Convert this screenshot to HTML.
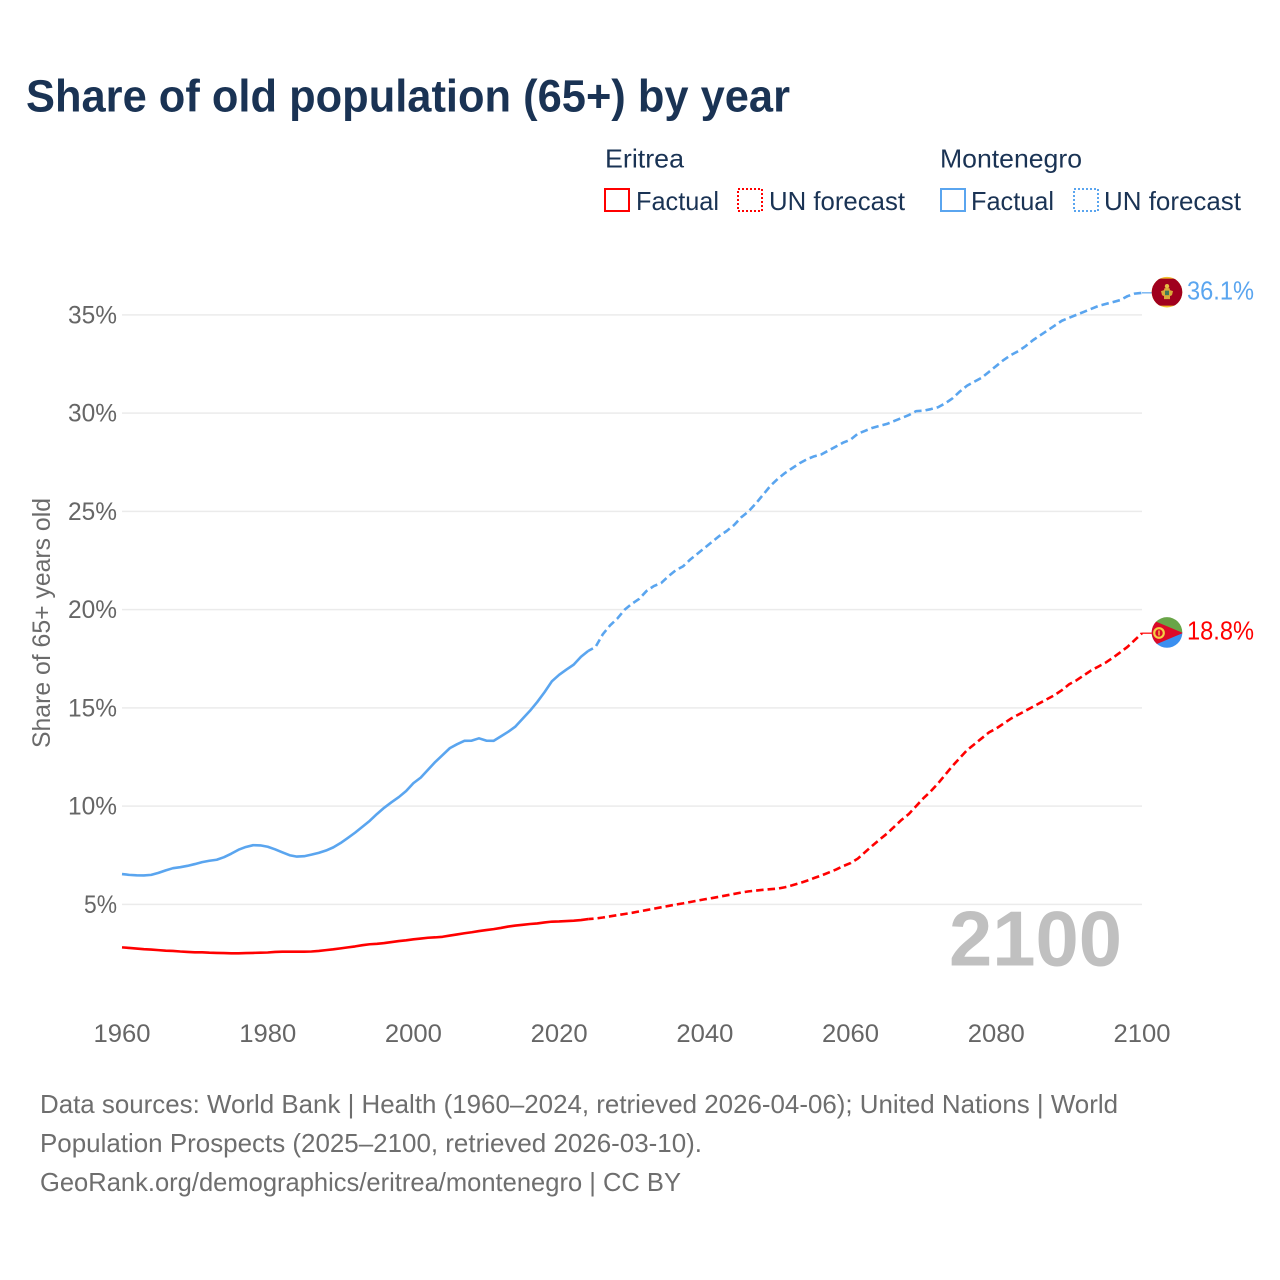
<!DOCTYPE html>
<html lang="en">
<head>
<meta charset="utf-8">
<title>Share of old population (65+) by year</title>
<style>
html,body{margin:0;padding:0;background:#fff;}
svg{display:block;font-family:"Liberation Sans",sans-serif;}
</style>
</head>
<body>
<svg id="chart" xmlns="http://www.w3.org/2000/svg" width="1280" height="1280" viewBox="0 0 1280 1280">
  <rect x="0" y="0" width="1280" height="1280" fill="#fff"/>
  <text x="26" y="111.5" font-size="45" font-weight="700" fill="#1a3354" textLength="764" lengthAdjust="spacingAndGlyphs">Share of old population (65+) by year</text>

  <g font-size="26" fill="#1a3354">
    <text x="605" y="167.5" textLength="79" lengthAdjust="spacingAndGlyphs">Eritrea</text>
    <rect x="605" y="189" width="24" height="22" fill="none" stroke="#ff0000" stroke-width="2"/>
    <text x="636" y="210" textLength="83" lengthAdjust="spacingAndGlyphs">Factual</text>
    <rect x="738" y="189" width="24" height="22" fill="none" stroke="#ff0000" stroke-width="2" stroke-dasharray="2 2"/>
    <text x="769" y="210" textLength="136" lengthAdjust="spacingAndGlyphs">UN forecast</text>
    <text x="940" y="167.5" textLength="142" lengthAdjust="spacingAndGlyphs">Montenegro</text>
    <rect x="941" y="189" width="24" height="22" fill="none" stroke="#5aa5ef" stroke-width="2"/>
    <text x="971" y="210" textLength="83" lengthAdjust="spacingAndGlyphs">Factual</text>
    <rect x="1074" y="189" width="24" height="22" fill="none" stroke="#5aa5ef" stroke-width="2" stroke-dasharray="2 2"/>
    <text x="1104" y="210" textLength="137" lengthAdjust="spacingAndGlyphs">UN forecast</text>
  </g>

  <g id="grid"></g>
  <g id="yticks" font-size="25" fill="#666"></g>
  <g id="xticks" font-size="25" fill="#666"></g>
  <text transform="translate(50,623) rotate(-90)" text-anchor="middle" font-size="25" fill="#6b6b6b" textLength="250" lengthAdjust="spacingAndGlyphs">Share of 65+ years old</text>

  <text x="949" y="965.5" font-size="78" font-weight="700" fill="#c0c0c0" textLength="173" lengthAdjust="spacingAndGlyphs">2100</text>

  <g id="series"></g>

  <clipPath id="flag-clip"><circle cx="0" cy="0" r="15.3"/></clipPath>
  <g id="flag-montenegro">
    <g clip-path="url(#flag-clip)">
      <rect x="-16" y="-16" width="32" height="32" fill="#f2c230"/>
      <rect x="-16" y="-13.5" width="32" height="27" fill="#a0001e"/>
      <path d="M-6,-1L-3,-2L-2.5,-4H2.5L3,-2L6,-1L5,3L3,4L3,7H-3L-3,4L-5,3Z" fill="#d9a93a"/>
      <rect x="-2" y="-1.5" width="4" height="4.5" fill="#3f7a5a"/>
      <circle cx="0" cy="-6" r="2.2" fill="#e5bb45"/>
    </g>
  </g>
  <g id="flag-eritrea">
    <g clip-path="url(#flag-clip)">
      <rect x="-16" y="-16" width="32" height="16" fill="#69a548"/>
      <rect x="-16" y="0" width="32" height="16" fill="#3a8ff0"/>
      <path d="M-16,-13L16,0.5L-16,14Z" fill="#dc0a28"/>
      <circle cx="-8" cy="0.5" r="4.8" fill="none" stroke="#f4cf45" stroke-width="2.2"/>
      <rect x="-8.7" y="-2" width="1.4" height="5" fill="#f4cf45"/>
    </g>
  </g>
  <g id="endlabels" font-size="26"></g>

  <g font-size="26" fill="#6e6e6e">
    <text x="40" y="1113" textLength="1078" lengthAdjust="spacingAndGlyphs">Data sources: World Bank | Health (1960–2024, retrieved 2026-04-06); United Nations | World</text>
    <text x="40" y="1152" textLength="662" lengthAdjust="spacingAndGlyphs">Population Prospects (2025–2100, retrieved 2026-03-10).</text>
    <text x="40" y="1191" textLength="641" lengthAdjust="spacingAndGlyphs">GeoRank.org/demographics/eritrea/montenegro | CC BY</text>
  </g>
</svg>
<script>
const xTickYears = [1960, 1980, 2000, 2020, 2040, 2060, 2080, 2100];
const yTickValues = [5, 10, 15, 20, 25, 30, 35];
const firstFactualYear = 1960;
const firstForecastYear = 2025;

const montenegroFactual = [6.54,6.5,6.48,6.47,6.5,6.6,6.73,6.84,6.89,6.96,
  7.05,7.15,7.22,7.27,7.4,7.58,7.78,7.92,8.01,8.0,
  7.93,7.8,7.65,7.5,7.43,7.45,7.53,7.62,7.74,7.9,
  8.12,8.38,8.65,8.95,9.25,9.6,9.92,10.2,10.46,10.77,
  11.17,11.45,11.85,12.25,12.6,12.95,13.15,13.32,13.33,13.45,
  13.33,13.32,13.55,13.78,14.05,14.45,14.85,15.3,15.8,16.35,
  16.68,16.95,17.2,17.6,17.9];
const montenegroForecast = [18.1,18.75,19.2,19.55,20.0,20.3,20.55,20.95,21.2,21.35,
  21.7,22.0,22.2,22.55,22.85,23.15,23.45,23.75,24.0,24.3,
  24.7,25.0,25.4,25.85,26.3,26.65,26.95,27.2,27.45,27.65,
  27.8,27.9,28.1,28.3,28.5,28.65,28.95,29.1,29.25,29.35,
  29.45,29.6,29.75,29.9,30.1,30.12,30.2,30.3,30.5,30.75,
  31.1,31.4,31.6,31.8,32.1,32.4,32.7,32.95,33.15,33.4,
  33.7,33.95,34.2,34.45,34.7,34.85,35.0,35.15,35.3,35.45,
  35.55,35.65,35.75,35.95,36.08,36.12];
const eritreaFactual = [2.81,2.78,2.75,2.72,2.7,2.67,2.64,2.63,2.6,2.58,
  2.56,2.56,2.54,2.53,2.52,2.51,2.51,2.52,2.53,2.54,
  2.55,2.58,2.59,2.59,2.59,2.59,2.6,2.63,2.67,2.71,
  2.76,2.81,2.86,2.92,2.97,2.99,3.03,3.08,3.13,3.17,
  3.22,3.26,3.3,3.32,3.35,3.41,3.47,3.53,3.58,3.64,
  3.69,3.74,3.8,3.87,3.92,3.96,4.0,4.03,4.08,4.12,
  4.13,4.15,4.17,4.2,4.25];
const eritreaForecast = [4.28,4.33,4.39,4.45,4.51,4.57,4.64,4.71,4.78,4.85,
  4.92,4.99,5.05,5.12,5.19,5.26,5.32,5.39,5.46,5.53,
  5.6,5.66,5.7,5.74,5.77,5.8,5.87,5.97,6.08,6.2,
  6.34,6.47,6.62,6.77,6.95,7.1,7.33,7.66,7.99,8.3,
  8.6,8.95,9.3,9.6,10.0,10.4,10.75,11.15,11.6,12.05,
  12.45,12.85,13.15,13.45,13.75,13.95,14.2,14.45,14.65,14.85,
  15.05,15.25,15.45,15.65,15.9,16.2,16.4,16.65,16.9,17.1,
  17.3,17.55,17.82,18.1,18.45,18.8];

const NS = 'http://www.w3.org/2000/svg';
const xScale = function (year) { return 122 + (year - 1960) * (1142 - 122) / 140; };
const yScale = function (value) { return 1002.6 - value * 19.65; };

function make(tag, parent, attrs) {
  const el = document.createElementNS(NS, tag);
  Object.keys(attrs).forEach(function (k) { el.setAttribute(k, attrs[k]); });
  parent.appendChild(el);
  return el;
}

const grid = document.getElementById('grid');
const yticks = document.getElementById('yticks');
yTickValues.forEach(function (v) {
  const line = make('line', grid, {x1: xScale(1960), x2: xScale(2100), y1: yScale(v), y2: yScale(v), stroke: '#ebebeb', 'stroke-width': 1.5});
  
  
  const label = v + '%';
  const t = make('text', yticks, {x: 117, y: yScale(v) + 8.5, 'text-anchor': 'end', textLength: label.length === 2 ? 33 : 49, lengthAdjust: 'spacingAndGlyphs'});
  t.textContent = label;
  
  
});

const xticks = document.getElementById('xticks');
xTickYears.forEach(function (yr) {
  const t = make('text', xticks, {x: xScale(yr), y: 1042, 'text-anchor': 'middle', textLength: 57, lengthAdjust: 'spacingAndGlyphs'});
  t.textContent = String(yr);
  
  
});

function pointsFor(values, startYear) {
  return values.map(function (v, i) { return xScale(startYear + i).toFixed(2) + ',' + yScale(v).toFixed(2); });
}

function drawCountry(key, color, factual, forecast, flagId, labelWidth) {
  const series = document.getElementById('series');
  const last = forecast[forecast.length - 1];
  const lastYear = firstForecastYear + forecast.length - 1;
  const endX = xScale(lastYear);
  const endY = yScale(last);

  const solid = make('polyline', series, {points: pointsFor(factual, firstFactualYear).join(' '), fill: 'none', stroke: color, 'stroke-width': 2.6, 'stroke-linejoin': 'round'});
  
  

  const bridge = [factual[factual.length - 1]].concat(forecast);
  const dashed = make('polyline', series, {points: pointsFor(bridge, firstForecastYear - 1).join(' '), fill: 'none', stroke: color, 'stroke-width': 2.6, 'stroke-dasharray': '7.5 4', 'stroke-dashoffset': 2.2, 'stroke-linejoin': 'round'});
  
  

  const link = make('line', series, {x1: endX, y1: endY, x2: endX + 12, y2: endY, stroke: color, 'stroke-width': 1.2});
  
  

  document.getElementById(flagId).setAttribute('transform', 'translate(1167,' + (endY - 0.7).toFixed(2) + ')');

  const label = make('text', document.getElementById('endlabels'), {x: 1187, y: endY + 6.5, fill: color, textLength: labelWidth, lengthAdjust: 'spacingAndGlyphs'});
  label.textContent = last.toFixed(1) + '%';
  
  
}

drawCountry('eritrea', '#ff0000', eritreaFactual, eritreaForecast, 'flag-eritrea', 67);
drawCountry('montenegro', '#5aa5ef', montenegroFactual, montenegroForecast, 'flag-montenegro', 67);
</script>
</body>
</html>
